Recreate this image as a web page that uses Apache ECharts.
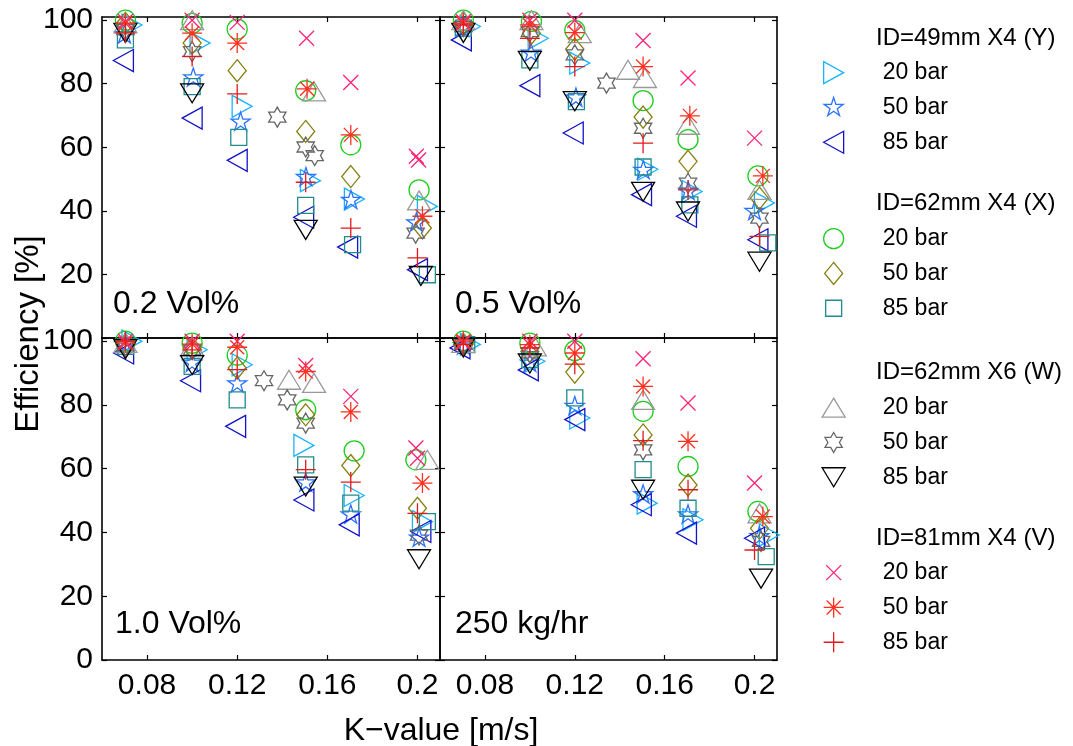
<!DOCTYPE html>
<html>
<head>
<meta charset="utf-8">
<title>Efficiency vs K-value</title>
<script src="https://cdn.jsdelivr.net/npm/echarts@6/dist/echarts.min.js"></script>
<style>
  html, body { margin: 0; padding: 0; background: #fff; }
  #chart { width: 1073px; height: 746px; }
</style>
</head>
<body>
<div id="chart"></div>
<script>
  // series order: Y 20/50/85, X 20/50/85, W 20/50/85, V 20/50/85
  const seriesNames = ['Y|20 bar', 'Y|50 bar', 'Y|85 bar', 'X|20 bar', 'X|50 bar', 'X|85 bar',
                       'W|20 bar', 'W|50 bar', 'W|85 bar', 'V|20 bar', 'V|50 bar', 'V|85 bar'];
  const groupTitles = ['ID=49mm X4 (Y)', 'ID=62mm X4 (X)', 'ID=62mm X6 (W)', 'ID=81mm X4 (V)'];
  const panelTitles = ['0.2 Vol%', '0.5 Vol%', '1.0 Vol%', '250 kg/hr'];
  const kTicks = [0.08, 0.12, 0.16, 0.2];
  const effTicks = [0, 20, 40, 60, 80, 100];

  // [K-value, efficiency] per series, panel 0.2 Vol%
  const vol02 = [
    [[0.0733, 98.5], [0.1035, 92.8], [0.1222, 72.9], [0.1525, 49.5], [0.172, 43.7], [0.2044, 41.4]],
    [[0.070, 95.4], [0.1005, 81.8], [0.1215, 67.9], [0.1505, 50.5], [0.1705, 43.3], [0.1995, 36.2]],
    [[0.0695, 87.3], [0.1, 69.2], [0.12, 55.9], [0.1495, 38], [0.169, 28.6], [0.2, 21.5]],
    [[0.0704, 100], [0.1, 99], [0.12, 97.2], [0.1504, 77.8], [0.1704, 60.8], [0.2007, 46.6]],
    [[0.0704, 99], [0.1, 92.8], [0.12, 84.1], [0.1504, 65], [0.1704, 50.8], [0.2022, 34.6]],
    [[0.0704, 93.8], [0.1, 79.1], [0.1207, 63.1], [0.1504, 41.7], [0.1712, 29.4], [0.2044, 19.9]],
    [[0.0704, 99], [0.1, 100], [0.1541, 77.6], [0.2007, 43.3]],
    [[0.0704, 97], [0.1, 90.1], [0.1378, 69.5], [0.1504, 60.1], [0.1544, 57.4], [0.1992, 33]],
    [[0.0704, 96], [0.1, 77], [0.1504, 34], [0.2015, 19.5]],
    [[0.0704, 99.6], [0.1, 100], [0.12, 99.3], [0.1508, 94.3], [0.1704, 80.4], [0.1995, 57.2], [0.2005, 56]],
    [[0.0704, 99], [0.1, 95.9], [0.12, 92.8], [0.151, 78.4], [0.1704, 63.9], [0.2022, 38.3]],
    [[0.0704, 96], [0.1, 88.6], [0.12, 76.8], [0.1504, 49], [0.1704, 34.6], [0.2, 25.2]]
  ];

  // panel 0.5 Vol%
  const vol05 = [
    [[0.0735, 98], [0.1037, 94.3], [0.1222, 86.5], [0.1525, 53.1], [0.1722, 46.1], [0.2044, 42.5]],
    [[0.070, 97.5], [0.1005, 89.6], [0.1205, 75.5], [0.1505, 52.7], [0.1705, 46.1], [0.2, 39.8]],
    [[0.0695, 93.8], [0.1, 79.4], [0.1193, 64.5], [0.1497, 45.1], [0.1697, 38.3], [0.2015, 30.9]],
    [[0.0704, 100], [0.1007, 99.6], [0.12, 96.8], [0.1504, 74.7], [0.1704, 62.4], [0.2015, 51]],
    [[0.0704, 99], [0.1007, 95.9], [0.12, 90.9], [0.1504, 69.5], [0.1704, 55.6], [0.2022, 44]],
    [[0.0704, 97.5], [0.1, 87.5], [0.1207, 74.4], [0.1504, 53.8], [0.1712, 41.9], [0.2059, 29.9]],
    [[0.0704, 100], [0.1007, 100], [0.1222, 95.9], [0.1437, 84.4], [0.1512, 81.8], [0.1704, 67.1], [0.2022, 46.6]],
    [[0.0704, 98], [0.1, 96.4], [0.12, 89.1], [0.1341, 80.2], [0.1504, 66], [0.1704, 48.7], [0.2022, 37.7]],
    [[0.0704, 96], [0.1, 87.2], [0.12, 74.5], [0.1504, 46], [0.1704, 39.8], [0.2022, 24]],
    [[0.0704, 99.5], [0.1, 100], [0.12, 100], [0.1504, 93.6], [0.1704, 81.8], [0.2, 62.9]],
    [[0.0704, 99], [0.1, 98.5], [0.12, 96.1], [0.1504, 85.4], [0.1712, 69.9], [0.2037, 51]],
    [[0.0704, 98.5], [0.1, 94.3], [0.12, 85.4], [0.1504, 61.3], [0.1704, 46.6], [0.2022, 32]]
  ];

  // panel 1.0 Vol%
  const vol10 = [
    [[0.0733, 100], [0.1022, 97.3], [0.1222, 92.6], [0.1496, 67.3], [0.1719, 51.6], [0.2022, 43.4]],
    [[0.070, 98.9], [0.1, 93.1], [0.12, 86.6], [0.1504, 55.5], [0.1704, 45.5], [0.2007, 38.2]],
    [[0.0696, 96.3], [0.0993, 87.6], [0.1193, 73.3], [0.1496, 50.2], [0.1697, 42.4], [0.2015, 40.3]],
    [[0.0704, 100], [0.1, 99.4], [0.12, 95.6], [0.1504, 78.5], [0.1719, 65.6], [0.1993, 62.8]],
    [[0.0704, 98.9], [0.1, 97.9], [0.12, 91.6], [0.1504, 76.9], [0.1704, 61], [0.2, 47.6]],
    [[0.0704, 98.4], [0.1, 92.1], [0.12, 81.6], [0.1504, 61.2], [0.1704, 49.2], [0.2044, 43.4]],
    [[0.0704, 99.5], [0.1, 98.4], [0.143, 87.9], [0.1541, 86.9], [0.2044, 62.8]],
    [[0.0704, 98.5], [0.1, 97.3], [0.1319, 87.6], [0.1422, 81.6], [0.1504, 74.3], [0.2007, 39.2]],
    [[0.0704, 97.5], [0.1, 92.5], [0.1504, 54.4], [0.2007, 31.6]],
    [[0.0704, 100], [0.1, 100], [0.12, 100], [0.1504, 92.4], [0.1704, 82.7], [0.1993, 66.5], [0.2, 63.3]],
    [[0.0704, 99.4], [0.1, 99.1], [0.12, 98.1], [0.1504, 90.5], [0.1704, 77.8], [0.2022, 55.5]],
    [[0.0704, 100], [0.1, 97.3], [0.12, 91.1], [0.1504, 59.7], [0.1704, 55.8], [0.2, 46]]
  ];

  // panel 250 kg/hr
  const flow250 = [
    [[0.0735, 99], [0.1022, 93.7], [0.1222, 75.9], [0.1522, 49.2], [0.1726, 44], [0.2066, 39.2]],
    [[0.0704, 98.5], [0.1, 93.1], [0.12, 79.5], [0.1504, 51.8], [0.1704, 45.5], [0.2022, 38.7]],
    [[0.0689, 97.9], [0.0993, 91], [0.12, 75.4], [0.1496, 48.7], [0.1697, 39.8], [0.2, 38.2]],
    [[0.0704, 100], [0.1, 99.4], [0.12, 97], [0.1504, 78], [0.1704, 60.7], [0.2015, 46.6]],
    [[0.0704, 99], [0.1, 96.8], [0.12, 90.3], [0.1504, 70.6], [0.1704, 54.9], [0.2022, 41.3]],
    [[0.0719, 98.9], [0.1, 94.2], [0.12, 82.2], [0.1504, 59.7], [0.1704, 47.6], [0.2052, 32.4]],
    [[0.0704, 99.5], [0.1022, 98.4], [0.1504, 81.6], [0.2022, 46]],
    [[0.0704, 99], [0.1, 96.3], [0.1504, 65.9], [0.2029, 37.2]],
    [[0.0704, 98], [0.1, 93], [0.1504, 53.4], [0.2029, 25.5]],
    [[0.0704, 99.5], [0.1, 100], [0.12, 100], [0.1504, 94.5], [0.1704, 80.6], [0.2, 55.5]],
    [[0.0704, 100], [0.1, 98.9], [0.12, 96.3], [0.1504, 85.8], [0.1704, 68.6], [0.2037, 45]],
    [[0.0704, 99], [0.1, 97.9], [0.12, 92.8], [0.1504, 68.8], [0.1704, 53.4], [0.2, 34.5]]
  ];

  const panels = [vol02, vol05, vol10, flow250];

  const colors = ['#18b4ff', '#2a72ff', '#1414c8', '#22cc22', '#858010', '#208c8c',
                  '#999999', '#666666', '#000000', '#ff2277', '#ff3020', '#e31a1a'];

  // markers drawn inside a fixed 24x24 frame (the two leading moves), so symbolSize 24 = real px
  const FR = 'path://M-12 -12 M12 12 ';
  const symbols = [
    FR + 'M-10 -11 L10 0 L-10 11 Z',
    FR + 'M0 -10 L2.245 -3.09 L9.511 -3.09 L3.633 1.18 L5.878 8.09 L0 3.82 L-5.878 8.09 L-3.633 1.18 L-9.511 -3.09 L-2.245 -3.09 Z',
    FR + 'M10 -11 L-10 0 L10 11 Z',
    FR + 'M10 0 A10 10 0 1 1 -10 0 A10 10 0 1 1 10 0 Z',
    FR + 'M0 -11 L9 0 L0 11 L-9 0 Z',
    FR + 'M-8 -8 L8 -8 L8 8 L-8 8 Z',
    FR + 'M0 -9.5 L11.5 9.5 L-11.5 9.5 Z',
    FR + 'M0 -10 L2.887 -5 L8.66 -5 L5.774 0 L8.66 5 L2.887 5 L0 10 L-2.887 5 L-8.66 5 L-5.774 0 L-8.66 -5 L-2.887 -5 Z',
    FR + 'M-11.5 -9.5 L11.5 -9.5 L0 9.5 Z',
    FR + 'M-7.5 -7.5 L7.5 7.5 M7.5 -7.5 L-7.5 7.5',
    FR + 'M-10 0 L10 0 M0 -10 L0 10 M-7 -7 L7 7 M7 -7 L-7 7',
    FR + 'M-10 0 L10 0 M0 -10 L0 10'
  ];

  const FONT = "'Liberation Sans', Arial, Helvetica, sans-serif";

  let myChart = echarts.init(document.getElementById('chart'));

  // 2x2 panels sharing borders
  const grids = [
    { left: 102, top: 17, width: 338, height: 321 },
    { left: 440, top: 17, width: 337, height: 321 },
    { left: 102, top: 338, width: 338, height: 322 },
    { left: 440, top: 338, width: 337, height: 322 }
  ];

  const axisLine = { show: true, onZero: false, lineStyle: { color: '#000', width: 1.6 } };

  function makeX(p, isTop) {
    return {
      type: 'value', gridIndex: p, position: isTop ? 'top' : 'bottom',
      min: 0.06, max: 0.21,
      axisLine: axisLine,
      axisTick: { show: true, inside: true, length: 5, customValues: kTicks, lineStyle: { color: '#000', width: 1.2 } },
      axisLabel: {
        show: !isTop && p >= 2, customValues: kTicks, margin: 11,
        fontSize: 30, color: '#000', fontFamily: FONT,
        formatter: v => String(+v.toFixed(2))
      },
      splitLine: { show: false }
    };
  }

  function makeY(p, isRight) {
    const vals = p < 2 ? effTicks.slice(1) : effTicks;  // top panels leave 0 to the "100" below
    return {
      type: 'value', gridIndex: p, position: isRight ? 'right' : 'left',
      min: 0, max: 101,
      axisLine: axisLine,
      axisTick: { show: true, inside: true, length: 5, customValues: effTicks, lineStyle: { color: '#000', width: 1.2 } },
      axisLabel: {
        show: !isRight && p % 2 === 0, customValues: vals, margin: 9,
        fontSize: 30, color: '#000', fontFamily: FONT
      },
      splitLine: { show: false }
    };
  }

  const xAxes = [0, 1, 2, 3].map(p => makeX(p, false)).concat([0, 1, 2, 3].map(p => makeX(p, true)));
  const yAxes = [0, 1, 2, 3].map(p => makeY(p, false)).concat([0, 1, 2, 3].map(p => makeY(p, true)));

  const series = [];
  panels.forEach((pd, p) => {
    pd.forEach((pts, s) => {
      series.push({
        type: 'scatter',
        name: seriesNames[s],
        xAxisIndex: p, yAxisIndex: p,
        data: pts,
        symbol: symbols[s], symbolSize: 24,
        clip: false, silent: true,
        itemStyle: { color: 'rgba(0,0,0,0)', borderColor: colors[s], borderWidth: 1.3, opacity: 1 },
        emphasis: { disabled: true }
      });
    });
  });

  // one legend per tube group, headings drawn as text
  // (legend box is placed by its visible content, so left = left edge of the icon)
  const legendTops = [60, 226, 395, 560];
  const legends = legendTops.map((top, g) => ({
    orient: 'vertical', left: 821, top: top, padding: 0,
    itemWidth: 88, itemHeight: 24, itemGap: 9.5,
    selectedMode: false,
    data: [0, 1, 2].map(j => {
      const s = g * 3 + j;
      return { name: seriesNames[s], icon: symbols[s], itemStyle: { color: 'rgba(0,0,0,0)', borderColor: colors[s], borderWidth: 1.3 } };
    }),
    formatter: n => n.split('|')[1],
    textStyle: { fontSize: 23, lineHeight: 24, color: '#000', fontFamily: FONT }
  }));

  const headY = [38, 203, 372, 538];
  const panelPos = [[113, 304], [455, 304], [115, 624], [455, 624]];
  const graphic = [];
  groupTitles.forEach((t, i) => {
    graphic.push({ type: 'text', x: 876, y: headY[i], style: { text: t, fontSize: 24, fontFamily: FONT, fill: '#000', verticalAlign: 'middle' } });
  });
  panelTitles.forEach((t, i) => {
    graphic.push({ type: 'text', x: panelPos[i][0], y: panelPos[i][1], style: { text: t, fontSize: 32, fontFamily: FONT, fill: '#000', verticalAlign: 'middle' } });
  });
  graphic.push({ type: 'text', x: 29, y: 334, rotation: Math.PI / 2, style: { text: 'Efficiency [%]', fontSize: 33, fontFamily: FONT, fill: '#000', align: 'center', verticalAlign: 'middle' } });
  graphic.push({ type: 'text', x: 441, y: 731, style: { text: 'K\u2212value [m/s]', fontSize: 32, fontFamily: FONT, fill: '#000', align: 'center', verticalAlign: 'middle' } });

  let option = {
    backgroundColor: '#fff',
    animation: false,
    grid: grids,
    xAxis: xAxes,
    yAxis: yAxes,
    legend: legends,
    graphic: graphic,
    series: series
  };

  myChart.setOption(option);
  window.addEventListener('resize', function () { myChart.resize() });
</script>
</body>
</html>
